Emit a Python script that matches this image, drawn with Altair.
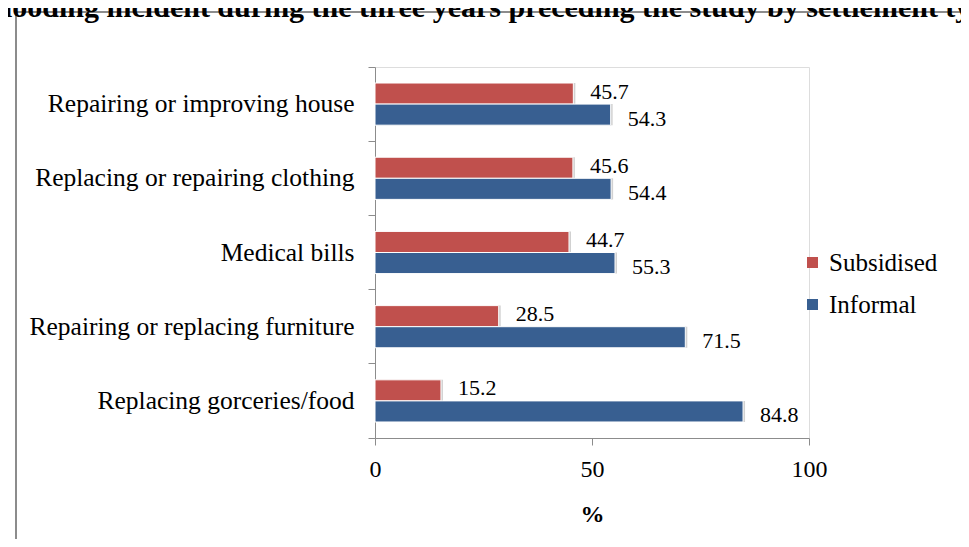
import altair as alt
import pandas as pd

categories = [
    "Repairing or improving house",
    "Replacing or repairing clothing",
    "Medical bills",
    "Repairing or replacing furniture",
    "Replacing gorceries/food",
]
series = ["Subsidised", "Informal"]
subsidised = [45.7, 45.6, 44.7, 28.5, 15.2]
informal = [54.3, 54.4, 55.3, 71.5, 84.8]
colors = ["#C0504D", "#385F91"]
x_ticks = [0, 50, 100]
title_text = "flooding incident during the three years preceding the study by settlement type"

rows = []
for c, s, i in zip(categories, subsidised, informal):
    rows.append({"cat": c, "series": "Subsidised", "value": s})
    rows.append({"cat": c, "series": "Informal", "value": i})
df = pd.DataFrame(rows)

FONT = "Liberation Serif"
W, H = 434, 371

y_enc = alt.Y("cat:N", sort=categories, title=None,
              scale=alt.Scale(paddingInner=0, paddingOuter=0),
              axis=alt.Axis(bandPosition=1, tickExtra=True,
                            domainColor="#8c8c8c", tickColor="#8c8c8c",
                            tickSize=7, labelPadding=14, labelFontSize=25.5,
                            labelFont=FONT, labelColor="black", labelLimit=400))
yoff = alt.YOffset("series:N", sort=series,
                   scale=alt.Scale(domain=series, paddingInner=0, paddingOuter=0.76))
x_enc = alt.X("value:Q", title="%",
              scale=alt.Scale(domain=[0, 100], nice=False),
              axis=alt.Axis(values=x_ticks, grid=False, domainColor="#8c8c8c",
                            tickColor="#8c8c8c", tickSize=7, labelPadding=12,
                            labelFlush=False,
                            labelFontSize=24, labelFont=FONT, labelColor="black",
                            titleFont=FONT, titleFontSize=24, titleFontWeight="bold",
                            titleColor="black", titlePadding=21))

base = alt.Chart(df)

shadow = base.mark_bar(color="#9a9a9a", opacity=0.45, xOffset=2, yOffset=3).encode(
    x=x_enc, y=y_enc, yOffset=yoff)

bars = base.mark_bar(stroke="white", strokeWidth=1).encode(
    x=x_enc, y=y_enc, yOffset=yoff,
    color=alt.Color("series:N", sort=series,
                    scale=alt.Scale(domain=series, range=colors),
                    legend=alt.Legend(title=None, orient="none", legendX=425, legendY=183,
                                      symbolType="square", symbolSize=121,
                                      symbolStrokeWidth=0, labelFont=FONT,
                                      labelFontSize=25, labelColor="black",
                                      labelOffset=4, rowPadding=16)))

lab_red = base.transform_filter(alt.datum.series == "Subsidised").mark_text(
    align="left", baseline="middle", dx=17, dy=-2, font=FONT, fontSize=22, color="black"
).encode(x="value:Q", y=alt.Y("cat:N", sort=categories), yOffset=yoff,
         text=alt.Text("value:Q", format=".1f"))
lab_blue = base.transform_filter(alt.datum.series == "Informal").mark_text(
    align="left", baseline="middle", dx=17, dy=4, font=FONT, fontSize=22, color="black"
).encode(x="value:Q", y=alt.Y("cat:N", sort=categories), yOffset=yoff,
         text=alt.Text("value:Q", format=".1f"))

border = alt.Chart(pd.DataFrame({"k": [0]})).mark_rect(
    fill=None, stroke="#8c8c8c", strokeWidth=2).encode(
    x=alt.value(-359), x2=alt.value(800), y=alt.value(-55), y2=alt.value(700))

title = alt.Chart(pd.DataFrame({"t": [title_text]})).mark_text(
    align="left", baseline="alphabetic", font=FONT, fontSize=30, fontWeight="bold",
    color="black").encode(x=alt.value(-381), y=alt.value(-50), text="t:N")

chart = alt.layer(border, shadow, bars, lab_red, lab_blue, title).properties(
    width=W, height=H,
    padding={"left": 367, "top": 59, "right": 152, "bottom": 101},
    autosize=alt.AutoSizeParams(type="none"),
).configure_view(stroke=None).configure(background="white")

chart.save("out.html", embed_options={"renderer": "svg", "actions": False})
